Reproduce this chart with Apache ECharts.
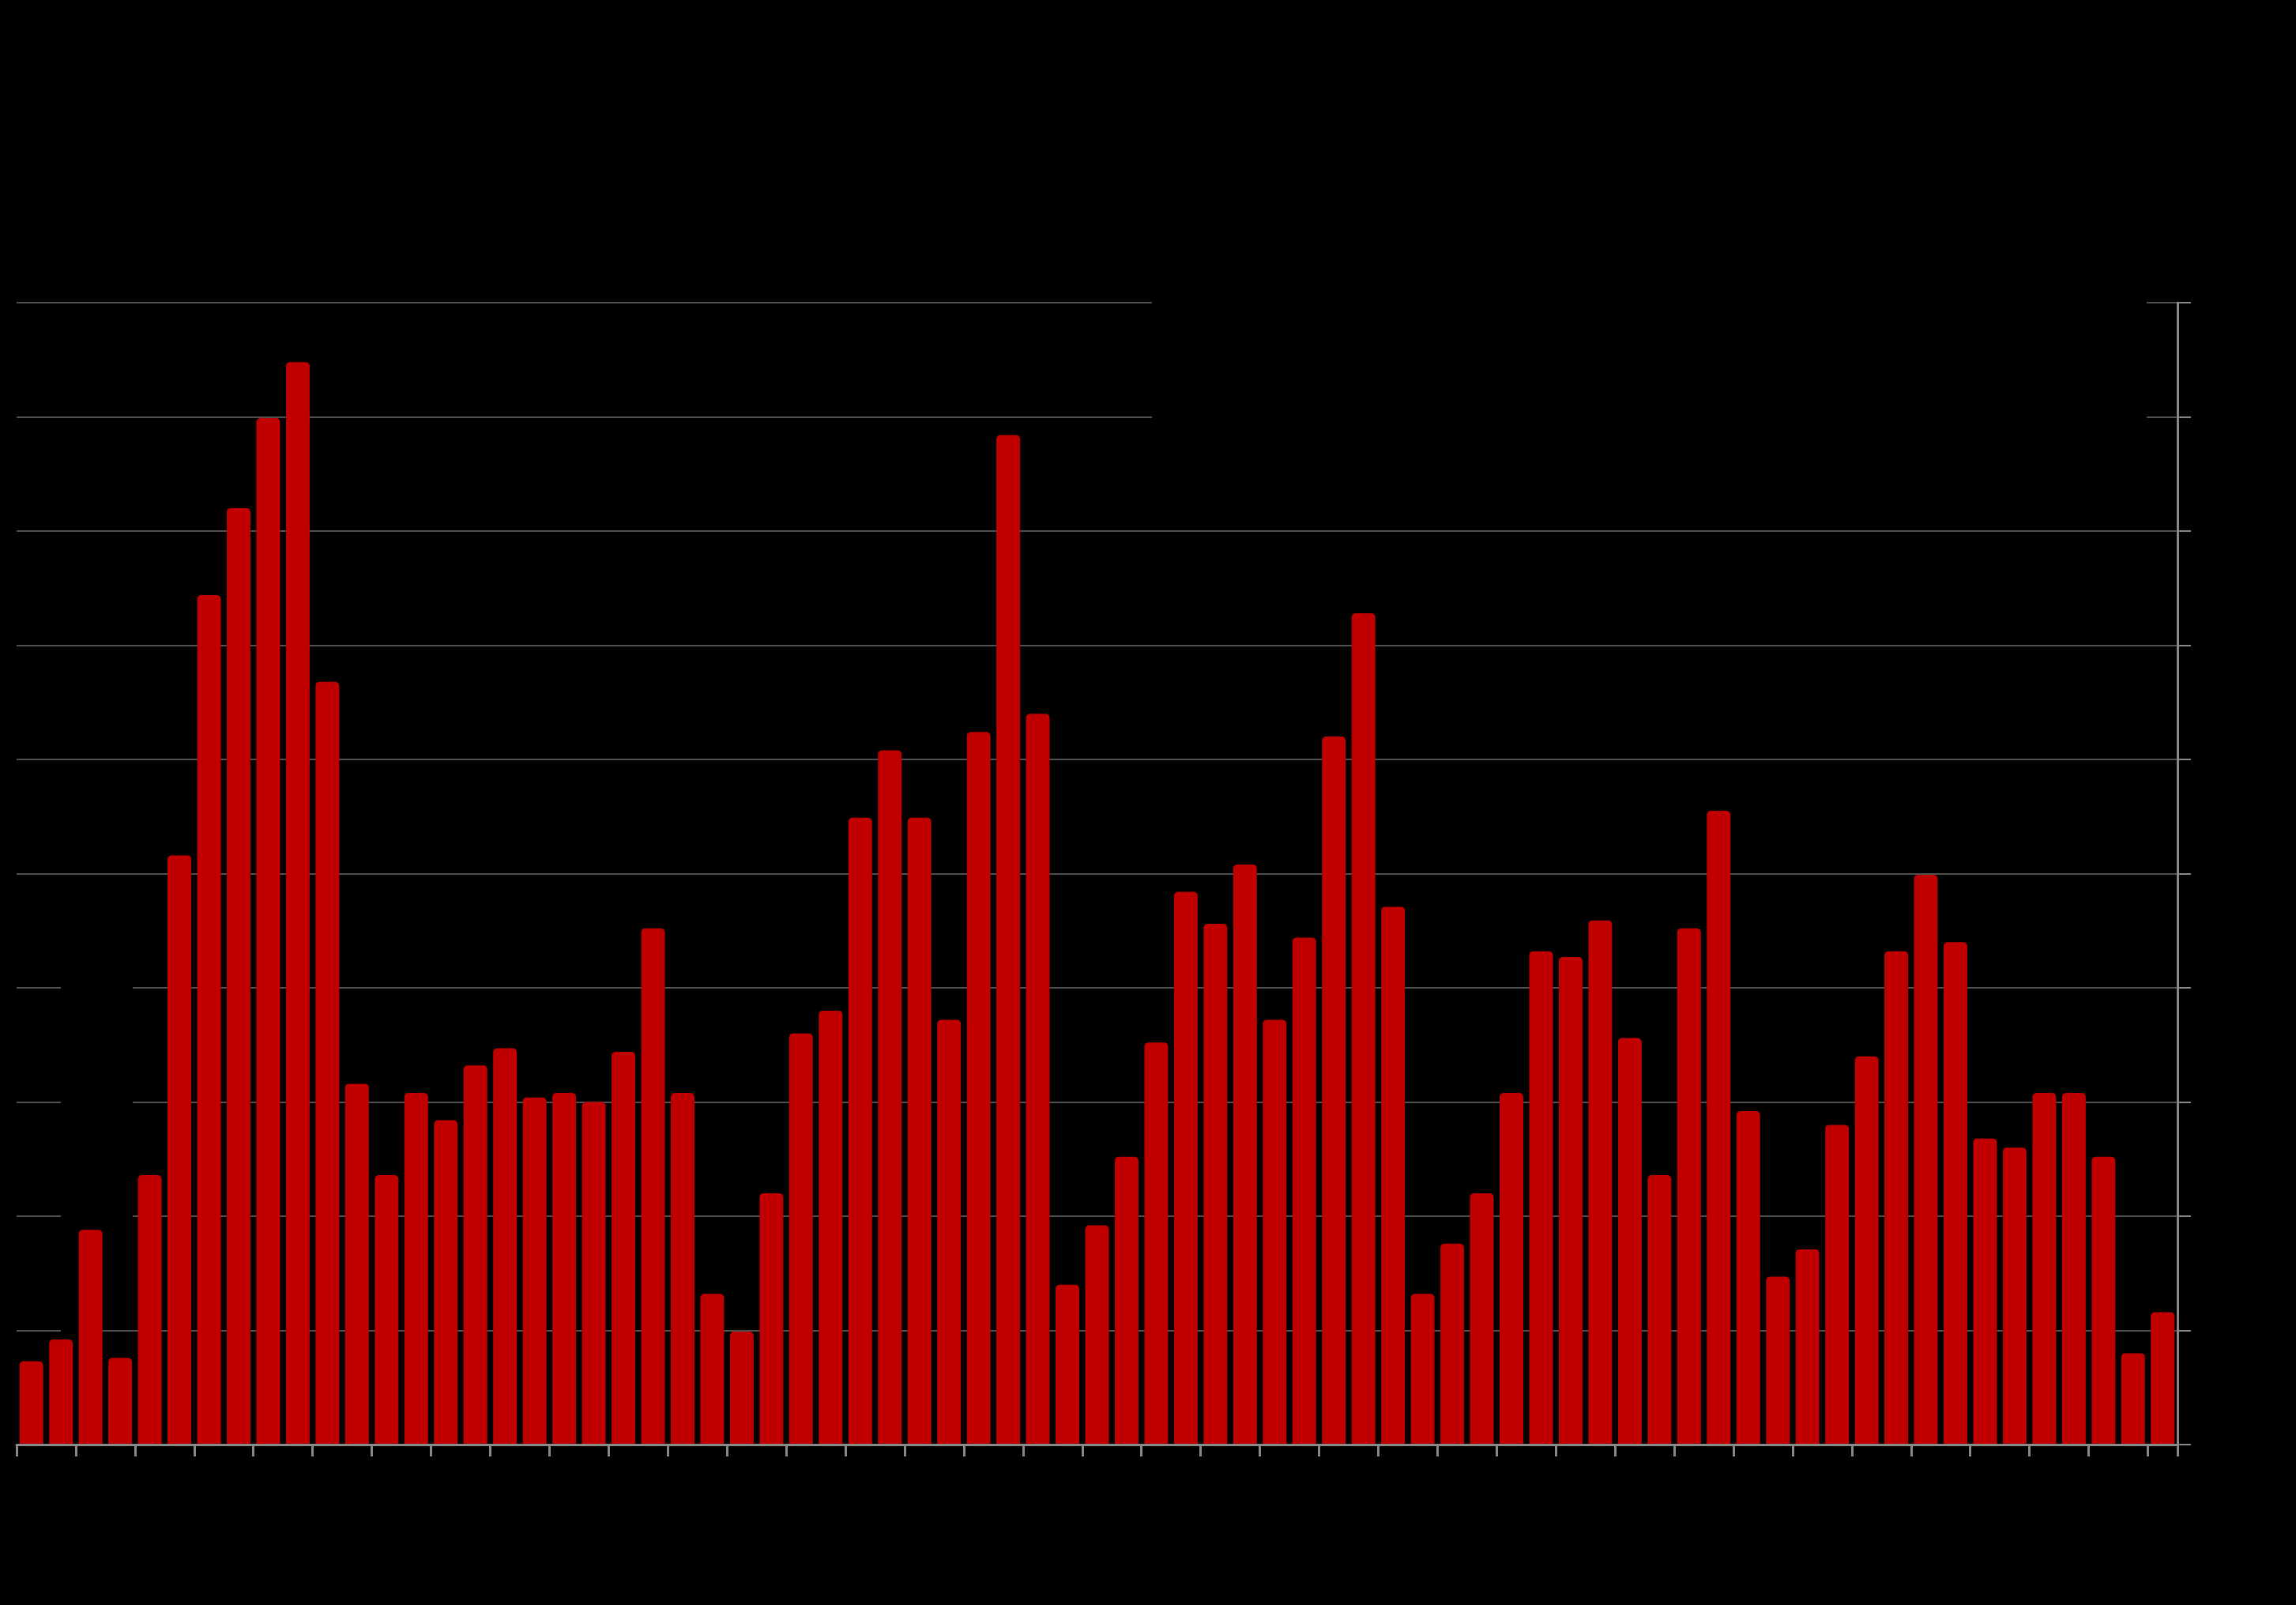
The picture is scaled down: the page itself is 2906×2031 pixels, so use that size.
<!DOCTYPE html>
<html>
<head>
<meta charset="utf-8">
<style>
html,body{margin:0;padding:0;background:#000;}
#chart{width:2906px;height:2031px;}
</style>
<script src="https://cdn.jsdelivr.net/npm/echarts@6/dist/echarts.min.js"></script>
</head>
<body>
<div id="chart"></div>
<script>
// Category labels (not legible in the reference; shown as index numbers)
const categories = Array.from({length: 73}, (_, i) => String(i + 1));

// Bar values (axis 0–100, gridline every 10)
const values = [
  7.3, 9.2, 18.8, 7.6, 23.6, 51.6, 74.4, 82.0, 89.9, 94.8,
  66.8, 31.6, 23.6, 30.8, 28.4, 33.2, 34.7, 30.4, 30.8, 30.0,
  34.4, 45.2, 30.8, 13.2, 9.9, 22.0, 36.0, 38.0, 54.9, 60.8,
  54.9, 37.2, 62.4, 88.4, 64.0, 14.0, 19.2, 25.2, 35.2, 48.4,
  45.6, 50.8, 37.2, 44.4, 62.0, 72.8, 47.1, 13.2, 17.6, 22.0,
  30.8, 43.2, 42.7, 45.9, 35.6, 23.6, 45.2, 55.5, 29.2, 14.7,
  17.1, 28.0, 34.0, 43.2, 49.9, 44.0, 26.8, 26.0, 30.8, 30.8,
  25.2, 8.0, 11.6
];

// Value axis ticks
const yMin = 0, yMax = 100, yStep = 10;

const chart = echarts.init(document.getElementById('chart'), null, {renderer: 'canvas'});
chart.setOption({
  backgroundColor: '#000000',
  animation: false,
  grid: {left: 21, right: 150, top: 383, bottom: 203, containLabel: false},
  xAxis: {
    type: 'category',
    data: categories,
    boundaryGap: true,
    z: 3,
    axisLine: {show: true, lineStyle: {color: '#888888', width: 3}},
    axisTick: {show: true, interval: 1, length: 15, lineStyle: {color: '#888888', width: 3}},
    axisLabel: {show: false}
  },
  yAxis: {
    type: 'value',
    position: 'right',
    min: yMin, max: yMax, interval: yStep,
    axisLine: {show: true, lineStyle: {color: '#888888', width: 3}},
    axisTick: {show: true, inside: false, length: 17, lineStyle: {color: '#888888', width: 2}},
    axisLabel: {show: false},
    splitLine: {show: true, lineStyle: {color: '#505050', width: 2}}
  },
  graphic: [
    {type: 'rect', z: 1, shape: {x: 1458, y: 360, width: 1259, height: 185}, style: {fill: '#000000'}, silent: true},
    {type: 'rect', z: 1, shape: {x: 77, y: 1235, width: 91, height: 320}, style: {fill: '#000000'}, silent: true},
    {type: 'rect', z: 1, shape: {x: 77, y: 1675, width: 23, height: 16}, style: {fill: '#000000'}, silent: true}
  ],
  series: [{
    type: 'bar',
    data: values,
    barWidth: '80%',
    itemStyle: {color: '#C00000', borderRadius: [5, 5, 0, 0]}
  }]
});
</script>
</body>
</html>
